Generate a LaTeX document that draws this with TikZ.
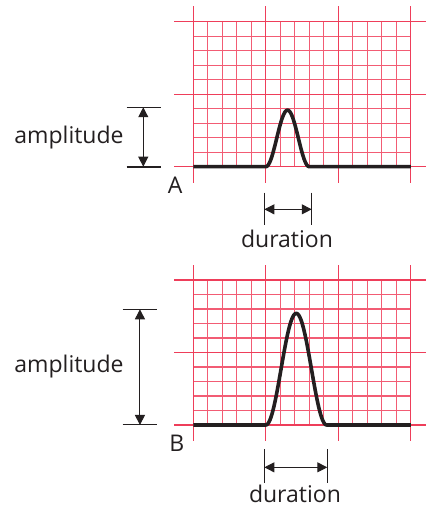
\documentclass[tikz,border=0pt]{standalone}
\usepackage{fontspec}
\setmainfont{Open Sans}
\usetikzlibrary{arrows.meta}
\definecolor{ecgmajor}{RGB}{238,62,90}
\definecolor{ecgminor}{RGB}{242,92,116}
\definecolor{ink}{RGB}{35,31,32}

\begin{document}
\begin{tikzpicture}[
  x=1pt, y=1pt,
  minor/.style={draw=ecgminor, line width=1.1pt},
  major/.style={draw=ecgmajor, line width=1.2pt},
  trace/.style={draw=ink, line width=3.6pt, line join=round},
  tickline/.style={draw=ink, line width=1pt},
  dimarrow/.style={draw=ink, line width=1pt, {Triangle[length=10pt,width=10pt]}-{Triangle[length=10pt,width=10pt]}},
  lbl/.style={text=ink, font=\fontsize{23}{27}\selectfont, inner sep=0pt}
]
\useasboundingbox (0,0) rectangle (426,507);

% ECG paper, 5 small squares to a big one
\foreach \py in {340.3,82}{
  \begin{scope}[shift={(193.3,\py)}, x=14.5pt, y=14.5pt]
    \foreach \i in {1,2,3,4,6,7,8,9,11,12,13,14} \draw[minor] (\i,0) -- (\i,10);
    \foreach \j in {1,2,3,4,6,7,8,9} \draw[minor] (0,\j) -- (15,\j);
    \foreach \i in {0,5,10,15} \draw[major] (\i,-1.1) -- (\i,11.05);
    \foreach \j in {0,5,10} \draw[major] (-1.3,\j) -- (16.05,\j);
  \end{scope}
}

% A: low, narrow wave
\begin{scope}[shift={(193.3,340.3)}, x=14.5pt, y=14.5pt]
  \draw[trace] (0,0) -- (5,0) -- plot[domain=5:8, samples=50] (\x,{1.95*(1-cos(120*(\x-5)))}) -- (15,0);
  \coordinate (ampAhi) at (-3.45,4.1);
  \coordinate (ampAlo) at (-3.45,0);
  \draw[tickline] (-4.59,4.1) -- (-2.23,4.1);
  \draw[tickline, line width=2pt] (-4.59,0) -- (-2.23,0);
  \draw[dimarrow] (ampAhi) -- (ampAlo);
  \node[lbl] (ampA) at (-8.57,1.98) {amplitude};
  \node[lbl] (labA) at (-1.26,-1.28) {A};
  \coordinate (durAl) at (4.9,-2.94);
  \coordinate (durAr) at (8.17,-2.94);
  \draw[tickline] (4.9,-1.79) -- (4.9,-4.02);
  \draw[tickline] (8.17,-1.79) -- (8.17,-4.02);
  \draw[dimarrow] (durAl) -- (durAr);
  \node[lbl] (durA) at (6.46,-4.97) {duration};
\end{scope}

% B: tall, wide wave
\begin{scope}[shift={(193.3,82)}, x=14.5pt, y=14.5pt]
  \draw[trace] (0,0) -- (5,0) -- plot[domain=5:9.2, samples=60] (\x,{3.85*(1-cos(85.714*(\x-5)))}) -- (15,0);
  \coordinate (ampBhi) at (-3.68,7.98);
  \coordinate (ampBlo) at (-3.68,0);
  \draw[tickline] (-4.87,7.98) -- (-2.52,7.98);
  \draw[tickline] (-4.87,0) -- (-2.52,0);
  \draw[dimarrow] (ampBhi) -- (ampBlo);
  \node[lbl] (ampB) at (-8.57,4.02) {amplitude};
  \node[lbl] (labB) at (-1.14,-1.26) {B};
  \coordinate (durBl) at (4.9,-2.92);
  \coordinate (durBr) at (9.24,-2.92);
  \draw[tickline] (4.9,-1.68) -- (4.9,-3.98);
  \draw[tickline] (9.24,-1.68) -- (9.24,-3.98);
  \draw[dimarrow] (durBl) -- (durBr);
  \node[lbl] (durB) at (7.01,-4.72) {duration};
\end{scope}
\end{tikzpicture}
\end{document}
